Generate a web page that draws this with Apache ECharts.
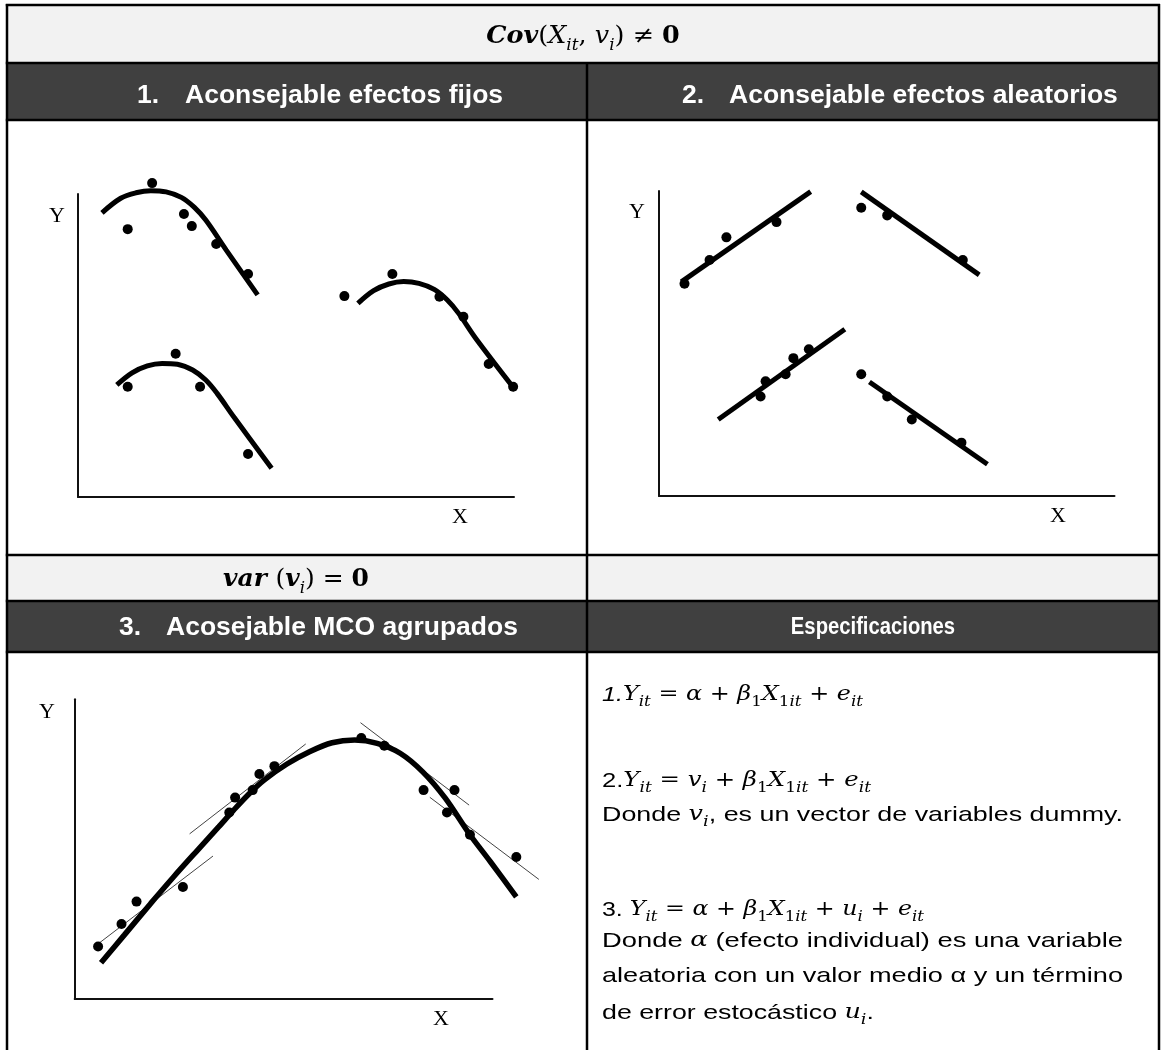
<!DOCTYPE html>
<html><head><meta charset="utf-8">
<script src="https://cdn.jsdelivr.net/npm/echarts@6/dist/echarts.min.js"></script>
<style>html,body{margin:0;padding:0;background:#fff}#c{width:1161px;height:1050px}</style>
</head><body><div id="c"></div>
<script>
// ---------- DATA (abstract units, each panel axis box = 0..100) ----------
// Panel 1: fixed effects (three groups, concave curves)
const P1_A_PTS   = [[11.4,88.4],[17.0,103.6],[24.3,93.4],[26.1,89.4],[31.7,83.5],[39.0,73.6]];
const P1_A_CURVE = [[5.5,93.8],[9.8,98.6],[13.3,100.4],[16.7,101.1],[20.2,100.7],[23.7,98.9],[26.7,95.6],[29.3,91.4],[34.0,81.5],[41.2,66.7]];
const P1_B_PTS   = [[61.1,66.3],[72.1,73.6],[82.9,66.1],[88.4,59.5],[94.2,43.9],[99.8,36.4]];
const P1_B_CURVE = [[64.2,63.9],[67.8,68.1],[71.3,70.3],[74.7,71.1],[78.2,70.5],[81.7,68.5],[84.7,65.0],[87.3,60.6],[91.2,52.4],[100.3,35.3]];
const P1_C_PTS   = [[11.4,36.4],[22.4,47.3],[28.0,36.4],[39.0,14.2]];
const P1_C_CURVE = [[8.9,37.0],[12.4,41.0],[15.9,43.3],[19.3,44.1],[22.8,43.8],[26.3,41.9],[29.3,38.6],[31.9,34.2],[35.8,26.3],[44.4,9.5]];
// Panel 2: random effects (four straight groups)
const P2_A_PTS  = [[5.6,69.6],[11.1,77.4],[14.8,84.8],[25.8,89.8]];
const P2_A_LINE = [[4.9,70.2],[33.3,99.8]];
const P2_B_PTS  = [[44.4,94.5],[50.1,92.0],[66.7,77.4]];
const P2_B_LINE = [[44.4,99.7],[70.3,72.5]];
const P2_C_PTS  = [[22.3,32.6],[23.4,37.6],[27.8,39.9],[29.5,45.2],[32.9,48.1]];
const P2_C_LINE = [[13.0,25.1],[40.8,54.7]];
const P2_D_PTS  = [[44.4,39.9],[50.1,32.6],[55.5,25.1],[66.4,17.5]];
const P2_D_LINE = [[46.2,37.4],[72.1,10.4]];
// Panel 3: pooled OLS
const P3_PTS   = [[5.6,17.5],[11.2,25.0],[14.8,32.5],[25.9,37.4],[37.0,62.2],[38.4,67.2],[42.6,69.7],[44.2,75.1],[47.8,77.7],[68.6,87.1],[74.1,84.5],[83.5,69.7],[90.9,69.7],[89.1,62.2],[94.6,54.8],[105.7,47.4]];
const P3_CURVE = [[6.3,12.1],[11.9,21.4],[18.2,31.9],[23.7,40.8],[29.1,49.2],[34.5,57.5],[38.1,63.1],[41.7,68.4],[45.4,73.1],[50.8,78.4],[56.2,82.5],[61.6,85.5],[67.0,86.4],[72.4,85.3],[77.9,82.0],[83.3,75.8],[88.7,67.0],[94.6,54.8],[99.5,45.8],[105.7,34.1]];
const P3_T1 = [[5.8,18.6],[33.1,47.7]];
const P3_T2 = [[27.5,55.1],[55.3,85.1]];
const P3_T3 = [[68.4,92.2],[94.4,64.7]];
const P3_T4 = [[85.0,67.3],[111.1,39.9]];
// Axis names
const AXIS_X = 'X', AXIS_Y = 'Y';

// ---------- CHART ----------
const chart = echarts.init(document.getElementById('c'), null, {renderer:'canvas'});

// axis boxes of the three panels
const BOX = [
  {left:78, top:194, width:436, height:303},
  {left:659, top:191, width:455.5, height:305},
  {left:74.7, top:699.3, width:417.8, height:299.7}
];
const XMAX = [105, 100, 115], YMAX = 110;   // data grids extend past the drawn axes
const grids = [];
BOX.forEach(b=>grids.push({left:b.left, top:b.top, width:b.width, height:b.height}));
BOX.forEach((b,i)=>grids.push({left:b.left, top:b.top + b.height - b.height*YMAX/100, width:b.width*XMAX[i]/100, height:b.height*YMAX/100}));

function axisShown(i){
  return {gridIndex:i,type:'value',min:0,max:100,
    axisLine:{show:true,onZero:false,lineStyle:{color:'#111',width:2}},
    axisTick:{show:false},axisLabel:{show:false},splitLine:{show:false}};
}
function axisData(i,max){
  return {gridIndex:i,type:'value',min:0,max:max,show:false,
    axisLine:{show:false},axisTick:{show:false},axisLabel:{show:false},splitLine:{show:false}};
}
function curve(d,p,w,c,smooth){
  return {type:'line',xAxisIndex:3+p,yAxisIndex:3+p,data:d,smooth:smooth===undefined?0.35:smooth,symbol:'none',
    lineStyle:{width:w,color:c||'#000',cap:'butt'},silent:true,z:3};
}
function dots(d,p){
  return {type:'scatter',xAxisIndex:3+p,yAxisIndex:3+p,data:d,symbolSize:10,itemStyle:{color:'#000',opacity:1},silent:true,z:5};
}

const series = [
  curve(P1_A_CURVE,0,5), curve(P1_B_CURVE,0,5), curve(P1_C_CURVE,0,5),
  dots(P1_A_PTS,0), dots(P1_B_PTS,0), dots(P1_C_PTS,0),
  curve(P2_A_LINE,1,5,'#000',false), curve(P2_B_LINE,1,5,'#000',false),
  curve(P2_C_LINE,1,5,'#000',false), curve(P2_D_LINE,1,5,'#000',false),
  dots(P2_A_PTS,1), dots(P2_B_PTS,1), dots(P2_C_PTS,1), dots(P2_D_PTS,1),
  curve(P3_T1,2,1,'#444',false), curve(P3_T2,2,1,'#444',false),
  curve(P3_T3,2,1,'#444',false), curve(P3_T4,2,1,'#444',false),
  curve(P3_CURVE,2,5.5,'#000',0.3),
  dots(P3_PTS,2)
];

// ---------- TABLE (layout graphics) ----------
const SANS = '"Liberation Sans", Arial, sans-serif';
const SERIF = '"Liberation Serif", "Times New Roman", serif';
const MATH = '"DejaVu Serif", serif';
const g = [];
const mctx = document.createElement('canvas').getContext('2d');
function fontOf(st){return (st.fontStyle||'normal')+' '+(st.fontWeight||'normal')+' '+st.fontSize+'px '+st.fontFamily;}
function rect(x,y,w,h,fill){g.push({type:'rect',shape:{x,y,width:w,height:h},style:{fill},z:0});}
function hline(y,x1,x2){g.push({type:'line',shape:{x1,y1:y,x2,y2:y},style:{stroke:'#000',lineWidth:2.5},z:2});}
function vline(x,y1,y2){g.push({type:'line',shape:{x1:x,y1,x2:x,y2},style:{stroke:'#000',lineWidth:2.5},z:2});}
function txt(x,y,text,font,fill,align,sx){g.push({type:'text',x,y,scaleX:sx||1,style:{text,font,fill:fill||'#000',align:align||'left',verticalAlign:'middle'},z:4});}
// tokens: [[style, text], ...]; optional target width -> horizontal scale
function rich(x,y,tokens,st,align,target,sx){
  const text = tokens.map(t=>'{'+t[0]+'|'+t[1]+'}').join('');
  let scale = sx||1;
  if(target){let w=0; tokens.forEach(t=>{mctx.font=fontOf(st[t[0]]); w+=mctx.measureText(t[1]).width;}); scale = target/w;}
  g.push({type:'text',x,y,scaleX:scale,style:{text,rich:st,align:align||'left',verticalAlign:'middle'},z:4});
}

rect(7,5,1152,58,'#f2f2f2');
rect(7,63,1152,57,'#404040');
rect(7,555,1152,46,'#f2f2f2');
rect(7,601,1152,51,'#404040');
[5,63,120,555,601,652].forEach(y=>hline(y,5.8,1160));
vline(7,4,1050); vline(1159,4,1050); vline(587,63,1050);

// Header row math
const hm = {
  b:{fontFamily:MATH,fontStyle:'italic',fontWeight:'bold',fontSize:24,lineHeight:34,verticalAlign:'middle',color:'#000'},
  r:{fontFamily:MATH,fontStyle:'italic',fontSize:24,lineHeight:34,verticalAlign:'middle',color:'#000'},
  u:{fontFamily:MATH,fontSize:24,lineHeight:34,verticalAlign:'middle',color:'#000'},
  ub:{fontFamily:MATH,fontWeight:'bold',fontSize:24,lineHeight:34,verticalAlign:'middle',color:'#000'},
  s:{fontFamily:MATH,fontStyle:'italic',fontSize:16,lineHeight:17,verticalAlign:'bottom',color:'#000'}
};
rich(583,37,[['b','Cov'],['u','('],['r','X'],['s','it'],['u',', '],['r','v'],['s','i'],['u',') ≠ '],['ub','0']],hm,'center',null,1.06);
rich(296,580,[['b','var '],['u','('],['b','v'],['s','i'],['u',') = '],['ub','0']],hm,'center',null,1.04);

// Dark header texts
const HF = 'bold 25px ' + SANS;
const HS = 1.06;
txt(137,96,'1.',HF,'#fff','left',HS); txt(185,96,'Aconsejable efectos fijos',HF,'#fff','left',HS);
txt(682,96,'2.',HF,'#fff','left',HS); txt(729,96,'Aconsejable efectos aleatorios',HF,'#fff','left',HS);
txt(119,628,'3.',HF,'#fff','left',HS); txt(166,628,'Acosejable MCO agrupados',HF,'#fff','left',HS);
txt(873,628,'Especificaciones','bold 23px ' + SANS,'#fff','center',0.88);

// Axis names
const AF = '20px ' + SERIF;
txt(57,217,AXIS_Y,AF,'#000','center',1.1); txt(460,518,AXIS_X,AF,'#000','center',1.1);
txt(637,213,AXIS_Y,AF,'#000','center',1.1); txt(1058,517,AXIS_X,AF,'#000','center',1.1);
txt(47,713,AXIS_Y,AF,'#000','center',1.1); txt(441,1020,AXIS_X,AF,'#000','center',1.1);

// Specifications
const FS = 21, LH = 28;
const sp = {
  t:{fontFamily:SANS,fontSize:FS,lineHeight:LH,verticalAlign:'middle',color:'#000'},
  ti:{fontFamily:SANS,fontStyle:'italic',fontSize:FS,lineHeight:LH,verticalAlign:'middle',color:'#000'},
  m:{fontFamily:MATH,fontStyle:'italic',fontSize:20,lineHeight:LH,verticalAlign:'middle',color:'#000'},
  mr:{fontFamily:MATH,fontSize:20,lineHeight:LH,verticalAlign:'middle',color:'#000'},
  s:{fontFamily:MATH,fontStyle:'italic',fontSize:14,lineHeight:15,verticalAlign:'bottom',color:'#000'},
  sr:{fontFamily:MATH,fontSize:14,lineHeight:15,verticalAlign:'bottom',color:'#000'}
};
const X0 = 602;
rich(X0,695,[['ti','1.'],['m','Y'],['s','it'],['mr',' = '],['m','α'],['mr',' + '],['m','β'],['sr','1'],['m','X'],['sr','1'],['s','it'],['mr',' + '],['m','e'],['s','it']],sp,'left',863-X0);
rich(X0,781,[['t','2.'],['m','Y'],['s','it'],['mr',' = '],['m','v'],['s','i'],['mr',' + '],['m','β'],['sr','1'],['m','X'],['sr','1'],['s','it'],['mr',' + '],['m','e'],['s','it']],sp,'left',871-X0);
rich(X0,815,[['t','Donde '],['m','v'],['s','i'],['t',', es un vector de variables dummy.']],sp,'left',1123-X0);
rich(X0,910,[['t','3. '],['m','Y'],['s','it'],['mr',' = '],['m','α'],['mr',' + '],['m','β'],['sr','1'],['m','X'],['sr','1'],['s','it'],['mr',' + '],['m','u'],['s','i'],['mr',' + '],['m','e'],['s','it']],sp,'left',924-X0);
rich(X0,941,[['t','Donde '],['m','α'],['t',' (efecto individual) es una variable']],sp,'left',1123-X0);
rich(X0,976,[['t','aleatoria con un valor medio α y un término']],sp,'left',1123-X0);
rich(X0,1013,[['t','de error estocástico '],['m','u'],['s','i'],['t','.']],sp,'left',874-X0);

chart.setOption({
  animation:false,
  backgroundColor:'#fff',
  grid:grids,
  xAxis:[axisShown(0),axisShown(1),axisShown(2),axisData(3,XMAX[0]),axisData(4,XMAX[1]),axisData(5,XMAX[2])],
  yAxis:[axisShown(0),axisShown(1),axisShown(2),axisData(3,YMAX),axisData(4,YMAX),axisData(5,YMAX)],
  series,
  graphic:{elements:g}
});
</script></body></html>
